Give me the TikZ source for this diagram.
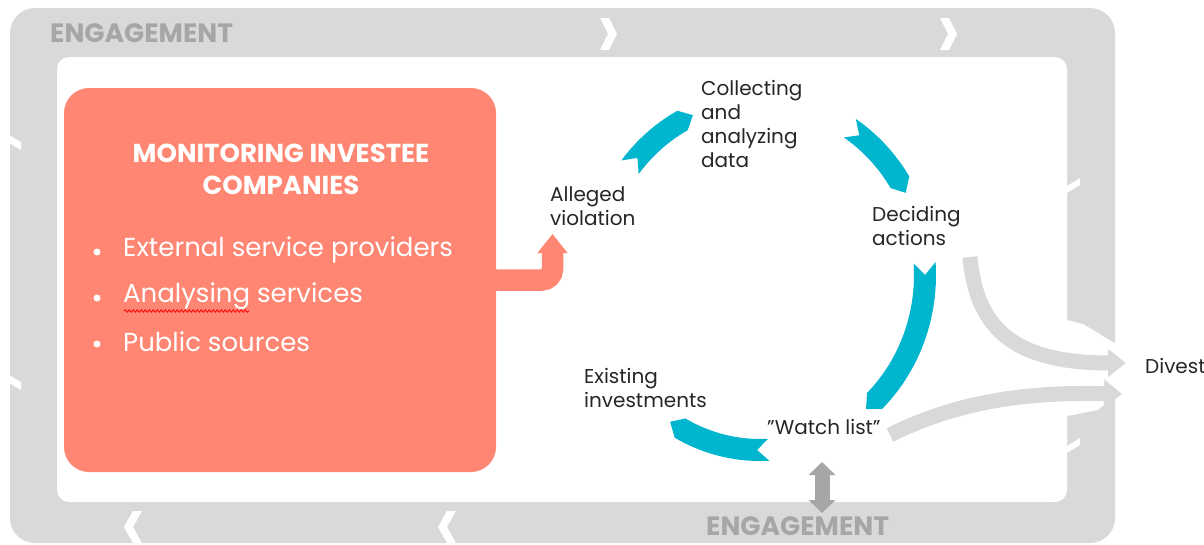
\documentclass[tikz,border=0pt]{standalone}
\usepackage{fontspec}
\setmainfont{Poppins}
\usetikzlibrary{arrows.meta,decorations.pathmorphing}

\definecolor{framegray}{RGB}{217,217,217}
\definecolor{enggray}{RGB}{166,166,166}
\definecolor{salmon}{RGB}{255,134,114}
\definecolor{cyclecyan}{RGB}{0,181,206}
\definecolor{labelblack}{RGB}{38,38,38}

\tikzset{
  steptext/.style={anchor=west, align=left, inner sep=0pt, text=labelblack, font=\fontsize{20}{24}\selectfont},
  bullettext/.style={anchor=west, inner sep=0pt, text=white, font=\fontsize{26}{30}\selectfont},
  bulletdot/.style={fill=white, circle, inner sep=0pt, minimum size=7pt},
  engtext/.style={anchor=west, inner sep=0pt, text=enggray, font=\bfseries\fontsize{26.5}{30}\selectfont},
  divestarrow/.style={framegray, line width=15pt, -{Triangle[width=27pt,length=18pt]}},
}

% one blue piece of the cycle, clockwise from angle #1 to angle #2
\newcommand{\cyclearrow}[2]{
  \fill [cyclecyan] (#1:176 and 186) arc [start angle=#1, end angle=#2, x radius=176, y radius=186]
    -- ({#2+4}:165 and 175) -- (#2:154 and 164)
    arc [start angle=#2, end angle=#1, x radius=154, y radius=164]
    -- ({#1+4}:165 and 175) -- cycle;
}

\begin{document}
\begin{tikzpicture}[x=1pt,y=-1pt]
\useasboundingbox (0,0) rectangle (1204,544);

% the engagement frame
\fill [framegray, rounded corners=25] (10,8) rectangle (1115,543);
\foreach \x in {600,940}
  \fill [white] (\x,18) -- ++(9,0) -- ++(8,16) -- ++(-8,16) -- ++(-9,0) -- ++(8,-16) -- cycle;
\foreach \x in {142,456}
  \fill [white] (\x,511) -- ++(-9,0) -- ++(-9,16) -- ++(9,16) -- ++(9,0) -- ++(-9,-16) -- cycle;
\foreach \y in {135,375}
  \fill [white] (9,\y) -- (21,{\y+7}) -- (21,{\y+15}) -- (9,{\y+8}) -- cycle;
\foreach \y in {178,438}
  \fill [white] (1080,\y) -- (1067,{\y+8}) -- (1067,{\y+15}) -- (1080,{\y+7}) -- cycle;
\fill [white] (1067,320) -- (1083,324) -- (1116,344) -- (1116,394) -- (1098,410) -- (1067,416) -- cycle;
\fill [white, rounded corners=12] (57,57) rectangle (1067,502);

\node [engtext] (engtop) at (50,33) {ENGAGEMENT};
\node [engtext] (engbot) at (706,526) {ENGAGEMENT};

% the monitoring box
\node [fill=salmon, rounded corners=25, minimum width=432, minimum height=384] (box) at (280,280) {};
\node [align=center, inner sep=0pt, text=white, font=\bfseries\fontsize{26}{32}\selectfont] (title) at (281,169) {MONITORING INVESTEE\\COMPANIES};
\node [bulletdot] (b1) at (97,252) {};
\node [bulletdot] (b2) at (97,298) {};
\node [bulletdot] (b3) at (97,344) {};
\node [bullettext] (ext) at (123,250) {External service providers};
\node [bullettext] (ana) at (123,296) {Analysing services};
\node [bullettext] (pub) at (123,342) {Public sources};
\draw [red, line width=0.8pt, decorate, decoration={snake, amplitude=1.2, segment length=4}] (124,311) -- (249,311);

% the cycle
\node [steptext] (alleged) at (550,206) {Alleged\\violation};
\node [steptext] (collect) at (701,124) {Collecting\\and\\analyzing\\data};
\node [steptext] (decide) at (872,226) {Deciding\\actions};
\node [steptext] (watch) at (767,427) {\symbol{"22}Watch list”};
\node [steptext] (existing) at (584,388) {Existing\\investments};
\node [steptext] (divest) at (1145,366) {Divest};

\begin{scope}[shift={(760,275)}]
\cyclearrow{218}{242}
\cyclearrow{303}{328}
\cyclearrow{-4}{46}
\cyclearrow{87}{119}
\end{scope}

% from the box to the alleged violation
\coordinate (violtip) at (552.5,234);
\draw [salmon, line width=21.5pt, rounded corners=11, -{Triangle[width=29pt,length=19pt]}] (box.east) -| (violtip);

% to divest
\coordinate (fromdecide) at (970,257);
\coordinate (fromwatch) at (890,435);
\coordinate (divtop) at (1126,363);
\coordinate (divbot) at (1122,394);
\draw [divestarrow] (fromdecide) .. controls (976,325) and (1010,363) .. (divtop);
\draw [divestarrow] (fromwatch) .. controls (960,400) and (1030,392) .. (divbot);

% watch list and engagement
\coordinate (watchend) at (822,462);
\coordinate (engend) at (822,513);
\draw [enggray, line width=15pt, {Triangle[width=26pt,length=13pt]}-{Triangle[width=26pt,length=13pt]}] (watchend) -- (engend);

\end{tikzpicture}
\end{document}
